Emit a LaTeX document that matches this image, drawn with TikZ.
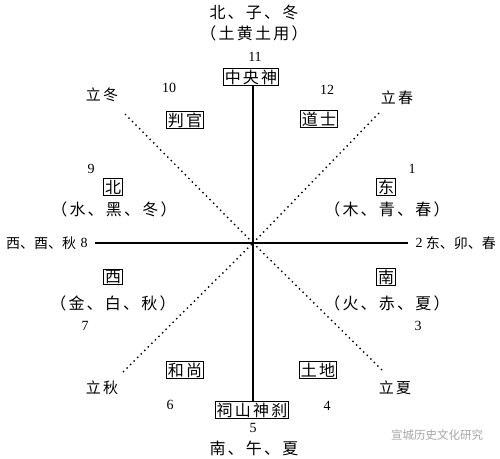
\documentclass[tikz,border=0pt]{standalone}
\usepackage{fontspec}
\setmainfont{Liberation Serif}
\newfontfamily\cjk{Noto Sans CJK SC}
\newfontfamily\cjksp[LetterSpace=14]{Noto Sans CJK SC}
\usetikzlibrary{positioning}
\tikzset{
  shen/.style={
    draw,
    line width=1.1pt,
    inner xsep=1.2pt,
    inner ysep=1pt,
    font=\cjksp\fontsize{16}{16}\selectfont
  },
  wenzi/.style={
    inner sep=0pt,
    font=\cjksp\fontsize{16}{16}\selectfont
  },
  jinzi/.style={
    inner sep=0pt,
    font=\cjk\fontsize{15}{15}\selectfont
  },
  hao/.style={
    inner sep=0pt,
    font=\fontsize{14}{14}\selectfont
  },
  zhou/.style={line width=1.4pt},
  xie/.style={line width=1.4pt, dash pattern=on 1.4pt off 3.6pt}
}

\begin{document}
\begin{tikzpicture}[x=1pt,y=-1pt,node distance=4pt]
\useasboundingbox (0,0) rectangle (500,458);
% top
\node[wenzi] (beizi) at (254,12) {北、子、冬};
\node[wenzi] (tuhuang) at (254,33) {（土黄土用）};
\node[shen] (zhongyang) at (251,77) {中央神};
\node[hao] (n11) at (255,57) {11};
% bottom
\node[shen] (cishan) at (252,410) {祠山神刹};
\node[hao] (n5) at (253,428) {5};
\node[wenzi] (nanwu) at (254,448) {南、午、夏};
% axes
\coordinate (o) at (253,243);
\coordinate (zuo) at (95,243);
\coordinate (you) at (408,243);
\draw[zhou] (zhongyang.south -| o) -- (cishan.north -| o);
\draw[zhou] (zuo) -- (you);
\node[hao] (n8) at (84,243) {8};
\node[jinzi, font=\cjk\fontsize{14}{14}\selectfont, left=4pt of n8] (xiyou) {西、酉、秋};
\node[hao] (n2) at (419,243) {2};
\node[jinzi, font=\cjk\fontsize{14}{14}\selectfont, right=3pt of n2] (dongmao) {东、卯、春};
% diagonals
\coordinate (zs) at (125,114);
\coordinate (ys) at (379,113);
\coordinate (zx) at (123,372);
\coordinate (yx) at (382,370);
\draw[xie] (zs) -- (o);
\draw[xie] (ys) -- (o);
\draw[xie] (zx) -- (o);
\draw[xie] (yx) -- (o);
% upper left
\node[hao] (n10) at (169,88) {10};
\node[jinzi] (lidong) at (102,95) {立\,冬};
\node[shen] (panguan) at (185,120) {判官};
\node[hao] (n9) at (91,169) {9};
\node[shen] (bei) at (113,187) {北};
\node[wenzi] (shui) at (114,209) {（水、黑、冬）};
% upper right
\node[hao] (n12) at (327,90) {12};
\node[jinzi] (lichun) at (397,98) {立\,春};
\node[shen] (daoshi) at (319,119) {道士};
\node[hao] (n1) at (412,169) {1};
\node[shen] (dong) at (386,187) {东};
\node[wenzi] (mu) at (387,209) {（木、青、春）};
% lower left
\node[shen] (xi) at (113,277) {西};
\node[wenzi] (jin) at (113,303) {（金、白、秋）};
\node[hao] (n7) at (85,326) {7};
\node[shen] (heshang) at (185,370) {和尚};
\node[jinzi] (liqiu) at (102,388) {立\,秋};
\node[hao] (n6) at (170,405) {6};
% lower right
\node[shen] (nan) at (386,277) {南};
\node[wenzi] (huo) at (387,303) {（火、赤、夏）};
\node[hao] (n3) at (418,326) {3};
\node[shen] (tudi) at (318,370) {土地};
\node[jinzi] (lixia) at (395,388) {立\,夏};
\node[hao] (n4) at (327,406) {4};
% mark
\node[inner sep=0pt, text=black!35, font=\cjk\fontsize{11.5}{12}\selectfont] (yinji) at (437,435) {宣城历史文化研究};
\end{tikzpicture}
\end{document}
